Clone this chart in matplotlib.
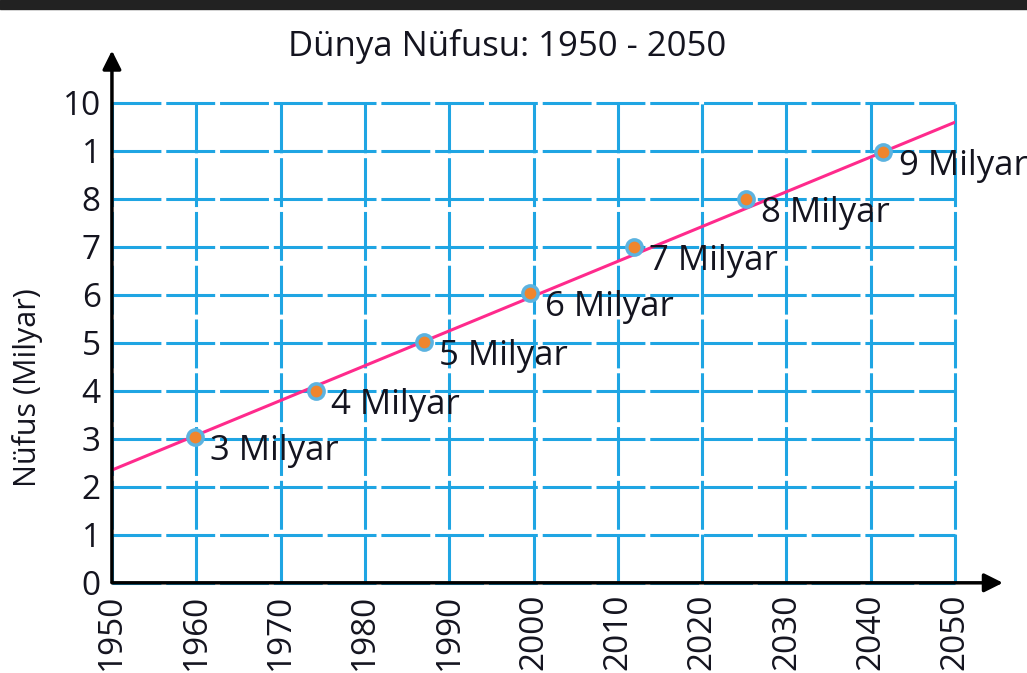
import matplotlib
matplotlib.use("Agg")
import matplotlib.pyplot as plt
from matplotlib.patches import Rectangle

plt.rcParams["font.family"] = ["Open Sans", "DejaVu Sans"]

# data
years = [1959.8, 1974.2, 1987.0, 1999.6, 2011.9, 2025.2, 2041.5]
population = [3.04, 4.0, 5.02, 6.04, 7.0, 8.0, 8.98]
point_labels = ["3 Milyar", "4 Milyar", "5 Milyar", "6 Milyar",
                "7 Milyar", "8 Milyar", "9 Milyar"]
trend_years = [1950, 2050]
trend_values = [2.35, 9.6]
x_ticks = list(range(1950, 2051, 10))
y_ticks = list(range(0, 11))
y_tick_labels = ["0", "1", "2", "3", "4", "5", "6", "7", "8", "1", "10"]

GRID_COLOR = "#1fa5e3"
LINE_COLOR = "#ff2a8c"
TEXT_COLOR = "#14141f"

fig = plt.figure(figsize=(10.27, 6.73), dpi=100)
ax = fig.add_axes([0.109, 0.134, 0.821, 0.713])

# top dark bar of the scan
fig.patches.append(Rectangle((0, 1 - 9 / 673), 1, 9 / 673, transform=fig.transFigure,
                             color="#222222", zorder=0))

ax.plot(trend_years, trend_values, color=LINE_COLOR, lw=2.2, zorder=3)
ax.plot(years, population, "o", ms=11, mfc="#f0852d", mec="#5cb3e0", mew=2.5, zorder=4)

for x, y, lab in zip(years, population, point_labels):
    ax.annotate(lab, (x, y), xytext=(11, -10), textcoords="offset points",
                fontsize=25, color=TEXT_COLOR, va="center", ha="left",
                annotation_clip=False, zorder=5)

ax.set_xlim(1950, 2050)
ax.set_ylim(0, 10)
ax.set_xticks(x_ticks)
ax.set_xticklabels([str(t) for t in x_ticks], rotation=90, fontsize=24, color=TEXT_COLOR)
ax.set_yticks(y_ticks)
ax.set_yticklabels(y_tick_labels, fontsize=24, color=TEXT_COLOR)
ax.tick_params(length=0, pad=8)

ax.grid(True, color=GRID_COLOR, lw=2.2, linestyle=(0, (16, 1.6)))
for gl in ax.get_xgridlines() + ax.get_ygridlines():
    gl.set_clip_on(False)
ax.set_axisbelow(True)

for s in ax.spines.values():
    s.set_visible(False)

# axis arrows
ax.annotate("", xy=(0, 1.115), xytext=(0, -0.005), xycoords="axes fraction",
            arrowprops=dict(arrowstyle="-|>", lw=2.5, color="black", mutation_scale=28))
ax.annotate("", xy=(1.06, 0), xytext=(-0.003, 0), xycoords="axes fraction",
            arrowprops=dict(arrowstyle="-|>", lw=2.5, color="black", mutation_scale=28))

fig.text(28 / 1027, 1 - 388 / 673, "Nüfus (Milyar)", fontsize=22, color=TEXT_COLOR,
         rotation=90, ha="center", va="center")
ax.set_title("Dünya Nüfusu: 1950 - 2050", fontsize=25, color=TEXT_COLOR,
             pad=34, x=0.469)

fig.savefig("out.png", dpi=100)
